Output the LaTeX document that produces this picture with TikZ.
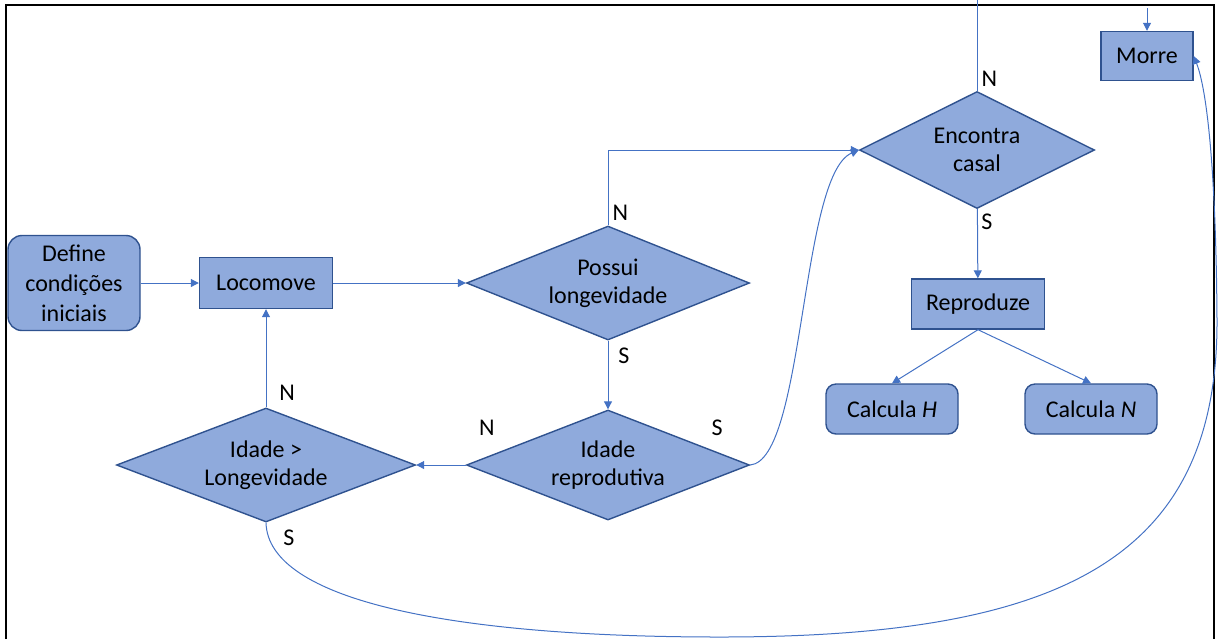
\documentclass[tikz,border=0pt]{standalone}
\usepackage{fontspec}
\setmainfont{Carlito}
\usetikzlibrary{shapes.geometric,arrows.meta,calc}
\definecolor{boxfill}{HTML}{8FAADC}
\definecolor{boxline}{HTML}{2F528F}
\definecolor{flowline}{HTML}{4472C4}

\begin{document}
\begin{tikzpicture}[x=0.5pt,y=-0.5pt,
  every node/.style={font=\fontsize{12}{14}\selectfont},
  box/.style={draw=boxline,fill=boxfill,line width=0.7pt,inner sep=0pt,
    minimum width=66.5pt,minimum height=25.5pt,align=center},
  rbox/.style={box,rounded corners=5pt,minimum width=66pt,minimum height=25pt},
  decision/.style={diamond,draw=boxline,fill=boxfill,line width=0.7pt,
    inner sep=0pt,aspect=2.5,minimum width=141.5pt,minimum height=57pt,align=center},
  flow/.style={draw=flowline,line width=0.5pt,-{Triangle[length=4pt,width=4pt]}},
  lbl/.style={inner sep=2pt}]
  \useasboundingbox (0,0) rectangle (1220,639);
  \draw[line width=1.2pt] (6,639) -- (6,5) -- (1214,5) -- (1214,639);
  \node[rbox,minimum width=66pt,minimum height=47.5pt,rounded corners=7pt,
    font=\fontsize{12}{15}\selectfont] (def) at (74,283) {Define\\condições\\iniciais};
  \node[box] (loc) at (266,283) {Locomove};
  \node[decision] (pl) at (608,283) {Possui\\longevidade};
  \node[decision,minimum height=55pt] (ir) at (608,465) {Idade\\reprodutiva};
  \node[decision,minimum width=149.5pt] (ig) at (266,465) {Idade >\\Longevidade};
  \node[decision,aspect=2,minimum width=117.5pt,minimum height=58.5pt] (ec) at (977,150) {Encontra\\casal};
  \node[box,minimum height=25pt] (rep) at (978,304) {Reproduze};
  \node[rbox] (ch) at (892,409) {Calcula \textit{H}};
  \node[rbox] (cn) at (1091,409) {Calcula \textit{N}};
  \node[box,minimum width=46pt,minimum height=24.5pt] (mo) at (1147,56) {Morre};
  \coordinate (ectop) at (977,0);
  \coordinate (motop) at (1147,8);
  \draw[flow] (def) -- (loc);
  \draw[flow] (loc) -- (pl);
  \draw[flow] (pl.north) node[lbl,above right] {N} |- (ec.west);
  \draw[flow] (pl) -- (ir);
  \node[lbl] at ($(pl.south)+(16,15)$) {S};
  \draw[flow] (ir) -- (ig);
  \node[lbl] at ($(ir.west)+(21,-37)$) {N};
  \node[lbl] at ($(ir.east)+(-33,-37)$) {S};
  \draw[flow] (ir.east) .. controls (805,460) and (800,175) .. (ec.west);
  \draw[flow] (ig) -- (loc);
  \node[lbl] at ($(ig.north)+(21,-15)$) {N};
  % Morre
  \node[lbl] at ($(ig.south)+(23,15)$) {S};
  \draw[flow] (ig.south)
    .. controls (268,600) and (450,637) .. (720,637)
    .. controls (1060,637) and (1218,560) .. (1217,320)
    .. controls (1216,170) and (1207,90) .. (mo.east);
  \draw[draw=flowline,line width=0.5pt] (ectop) -- (ec.north) node[lbl,above right] {N};
  \draw[flow] (ec) -- (rep);
  \node[lbl,below right] at (ec.south) {S};
  \draw[flow] (rep.south) -- (ch.north);
  \draw[flow] (rep.south) -- (cn.north);
  \draw[flow] (motop) -- (mo);
\end{tikzpicture}
\end{document}
